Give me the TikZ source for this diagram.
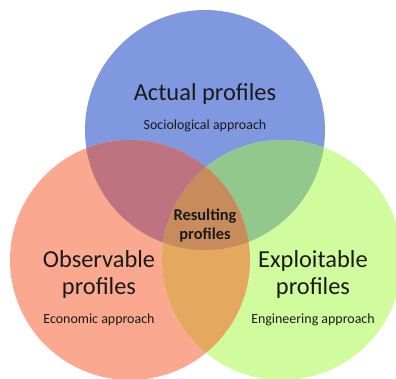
\documentclass[tikz,border=0pt]{standalone}
\usepackage{fontspec}
\setmainfont{Carlito}
\usetikzlibrary{positioning}
\definecolor{actualc}{HTML}{8098E0}
\definecolor{observc}{HTML}{FAA890}
\definecolor{exploitc}{HTML}{D0FC9E}
\definecolor{actobsc}{HTML}{BE7480}
\definecolor{actexpc}{HTML}{92C88E}
\definecolor{obsexpc}{HTML}{E4A860}
\definecolor{allc}{HTML}{C88C5C}
\definecolor{textc}{HTML}{1A1A1A}
\tikzset{
  title/.style={text=textc, align=center, anchor=base, inner sep=0pt, font=\fontsize{24.5}{27}\selectfont},
  approach/.style={text=textc, anchor=base, inner sep=0pt, font=\fontsize{14}{16}\selectfont},
  result/.style={text=textc, align=center, anchor=base, inner sep=0pt, font=\fontsize{16.5}{19}\selectfont\bfseries}
}

\begin{document}
\begin{tikzpicture}[x=1bp,y=-1bp]
        % frame
        \useasboundingbox (0,0) rectangle (396,379);
        \clip (0,0) rectangle (396,379);
        % centres
        \coordinate (A) at (205,130);
        \coordinate (O) at (130,260);
        \coordinate (E) at (282,260);
        % circles
        \path[fill=actualc] (A) circle (120bp);
        \path[fill=observc] (O) circle (120bp);
        \path[fill=exploitc] (E) circle (120bp);
        % overlaps
        \begin{scope}
            \clip (A) circle (120bp);
            \path[fill=actobsc] (O) circle (120bp);
            \path[fill=actexpc] (E) circle (120bp);
        \end{scope}
        \begin{scope}
            \clip (O) circle (120bp);
            \path[fill=obsexpc] (E) circle (120bp);
            \clip (E) circle (120bp);
            \path[fill=allc] (A) circle (120bp);
        \end{scope}
        % texts
        \node[title] (actual) at (205,100) {Actual profiles};
        \node[approach] (socio) at (205,129) {Sociological approach};
        \node[title] (observ) at (99,294) {Observable\\profiles};
        \node[approach] (econ) at (99,323) {Economic approach};
        \node[title] (exploit) at (313,294) {Exploitable\\profiles};
        \node[approach] (engin) at (313,323) {Engineering approach};
        \node[result] (result) at (205,239) {Resulting\\profiles};
\end{tikzpicture}
\end{document}
